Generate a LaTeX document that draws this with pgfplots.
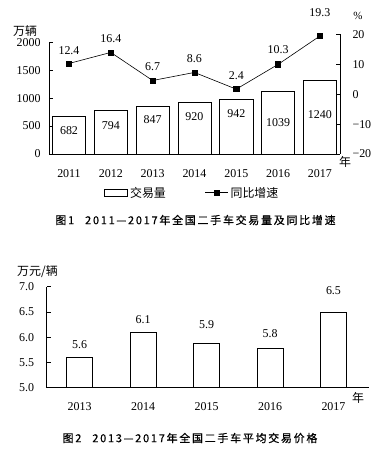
\documentclass[border=0pt]{standalone}
\usepackage{pgfplots}
\pgfplotsset{compat=1.18}
\usepackage{pgfplotstable}
\usepackage{fontspec}
\setmainfont{Liberation Serif}
\newfontfamily\cjk{Noto Sans CJK SC}
\newfontfamily\cjkcap[LetterSpace=16,FakeBold=0.6]{Noto Sans CJK SC}

\pgfplotstableread{
x y ly lab
0 675 412 682
1 775 501 794
2 859 609 847
3 931 675 920
4 985 716 942
5 1115 560 1039
6 1312 698 1240
}\bars

\pgfplotstableread{
x y ly lab
0 10.3 14.7 12.4
1 14.0 18.7 16.4
2 4.6 9.4 6.7
3 7.3 12.0 8.6
4 1.7 6.4 2.4
5 10.0 14.8 10.3
6 19.5 27.3 19.3
}\growth

\pgfplotstableread{
x y ly lab
0 5.61 5.86 5.6
1 6.10 6.34 6.1
2 5.87 6.24 5.9
3 5.78 6.08 5.8
4 6.50 6.92 6.5
}\price

\pgfplotsset{
  common/.style={
    scale only axis,
    anchor=south west,
    tick align=inside,
    major tick length=4bp,
    every tick/.style={black, line width=0.6pt},
    axis line style={black, line width=0.6pt},
    ticklabel style={font=\fontsize{12}{14}\selectfont},
    /pgf/number format/assume math mode=true,
    x tick style={draw=none},
  },
}

\begin{document}
\begin{tikzpicture}
\useasboundingbox (0,0) rectangle (392bp,457bp);

% ---------- Figure 1: left axis (bars)
\begin{axis}[common,
  at={(49bp,303bp)},
  width=291bp, height=111.7bp,
  xmin=-0.478, xmax=6.48, ymin=0, ymax=2000,
  axis x line*=bottom, axis y line*=left,
  xtick={0,1,2,3,4,5,6},
  xticklabels={2011,2012,2013,2014,2015,2016,2017},
  ytick={0,500,1000,1500,2000},
  yticklabels={0,500,1000,1500,2000},
  yticklabel style={xshift=-5bp},
  xticklabel style={yshift=-12bp},
  clip=false,
]
\addplot[ybar, bar width=0.79, fill=white, draw=black, line width=0.6pt]
  table[x=x, y=y] {\bars};
\addplot[draw=none, mark=none, nodes near coords, point meta=explicit symbolic,
  every node near coord/.style={anchor=center, font=\fontsize{12}{14}\selectfont}]
  table[x=x, y=ly, meta=lab] {\bars};
\end{axis}

% ---------- Figure 1: right axis (growth line)
\begin{axis}[common,
  at={(49bp,303bp)},
  width=291bp, height=119.5bp,
  xmin=-0.478, xmax=6.48, ymin=-20, ymax=20,
  axis x line=none, axis y line*=right,
  ytick={-20,-10,0,10,20},
  yticklabels={−20,−10,0,10,20},
  yticklabel style={xshift=9bp},
  clip=false,
  legend style={at={(0.19,-0.324)}, anchor=west, draw=none, fill=none,
    legend columns=2, inner sep=0pt,
    nodes={inner sep=2bp, font=\cjk\fontsize{12}{14}\selectfont},
    /tikz/every odd column/.append style={column sep=0bp},
    /tikz/every even column/.append style={column sep=37bp}},
]
\addlegendimage{legend image code/.code={\draw[black, fill=white, line width=0.6pt] (0bp,-3.5bp) rectangle (23bp,3.5bp);}}
\addlegendentry{交易量}
\addplot[black, line width=0.6pt, mark=square*, mark size=2.6bp,
  legend image code/.code={\draw[black, line width=0.6pt] (0bp,0bp) -- (23bp,0bp);
    \fill[black] (8.9bp,-2.6bp) rectangle (14.1bp,2.6bp);}]
  table[x=x, y=y] {\growth};
\addlegendentry{同比增速}
\addplot[forget plot, draw=none, mark=none, nodes near coords, point meta=explicit symbolic,
  every node near coord/.style={anchor=center, font=\fontsize{12}{14}\selectfont}]
  table[x=x, y=ly, meta=lab] {\growth};
\end{axis}

% ---------- Figure 2
\begin{axis}[common,
  at={(46.7bp,69.3bp)},
  width=322.3bp, height=101bp,
  xmin=-0.52, xmax=4.56, ymin=5, ymax=7,
  axis x line*=bottom, axis y line*=left,
  xtick={0,1,2,3,4},
  xticklabels={2013,2014,2015,2016,2017},
  ytick={5,5.5,6,6.5,7},
  yticklabels={5.0,5.5,6.0,6.5,7.0},
  yticklabel style={xshift=-9bp},
  xticklabel style={yshift=-11bp},
]
\addplot[ybar, bar width=0.41, fill=white, draw=black, line width=0.6pt]
  table[x=x, y=y] {\price};
\addplot[draw=none, mark=none, nodes near coords, point meta=explicit symbolic,
  every node near coord/.style={anchor=center, font=\fontsize{12}{14}\selectfont}]
  table[x=x, y=ly, meta=lab] {\price};
\end{axis}

% ---------- texts
\node[font=\cjk\fontsize{12}{14}\selectfont] at (25bp,426.3bp) {万辆};
\node[font=\fontsize{11}{13}\selectfont] at (358bp,441.3bp) {\%};
\node[font=\cjk\fontsize{12}{14}\selectfont] at (345bp,295.3bp) {年};
\node[font=\cjk\fontsize{12}{14}\selectfont] at (358bp,59.3bp) {年};
\node[font=\cjk\fontsize{12}{14}\selectfont] at (37.5bp,185.3bp) {万元/辆};
\node[font=\cjkcap\fontsize{11}{13}\selectfont] at (195.5bp,237bp) {图1\quad 2011—2017年全国二手车交易量及同比增速};
\node[font=\cjkcap\fontsize{11}{13}\selectfont] at (190bp,19bp) {图2\quad 2013—2017年全国二手车平均交易价格};
\end{tikzpicture}
\end{document}
